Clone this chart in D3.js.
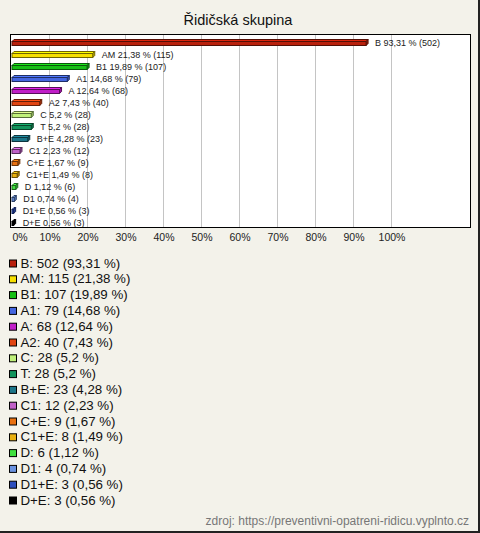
<!DOCTYPE html>
<html><head><meta charset="utf-8">
<script src="https://cdn.jsdelivr.net/npm/d3@7"></script>
<style>html,body{margin:0;padding:0;background:#f3f2ea;}svg{display:block;}</style>
</head><body>
<script>
const title = "Řidičská skupina";
const categories = ["B","AM","B1","A1","A","A2","C","T","B+E","C1","C+E","C1+E","D","D1","D1+E","D+E"];
const counts = [502,115,107,79,68,40,28,28,23,12,9,8,6,4,3,3];
const percents = [93.31,21.38,19.89,14.68,12.64,7.43,5.2,5.2,4.28,2.23,1.67,1.49,1.12,0.74,0.56,0.56];
const colors = ["#b8200c","#f7e000","#16c016","#4466e0","#c01ec8","#e04412","#bff07a","#12945c","#1c7588","#c060c8","#e87010","#e8b010","#40e040","#6a92e0","#2d4fbe","#000000"];
const ticks = [0,10,20,30,40,50,60,70,80,90,100];
const source = "zdroj: https://preventivni-opatreni-ridicu.vyplnto.cz";

const W = 480, H = 533;
const svg = d3.select("body").append("svg").attr("width", W).attr("height", H);
const font = "'Liberation Sans', Arial, sans-serif";
const fmt = v => String(v).replace(".", ",");

svg.append("rect").attr("width", W).attr("height", H).attr("fill", "#f3f2ea");
// outer border (right/bottom)
svg.append("line").attr("x1", W-1).attr("x2", W-1).attr("y1", 0).attr("y2", H).attr("stroke", "#222").attr("stroke-width", 2);
svg.append("line").attr("x1", 0).attr("x2", W).attr("y1", H-1).attr("y2", H-1).attr("stroke", "#222").attr("stroke-width", 2);

svg.append("text").attr("x", 238).attr("y", 25).attr("text-anchor", "middle")
  .attr("font-family", font).attr("font-size", 14.5).attr("fill", "#111").text(title);

const plot = {x0: 10.5, y0: 34.5, x1: 470.5, y1: 227.5};
svg.append("rect").attr("x", plot.x0).attr("y", plot.y0).attr("width", plot.x1-plot.x0).attr("height", plot.y1-plot.y0)
  .attr("fill", "#fff");

const x = d3.scaleLinear().domain([0,100]).range([11.5, 391.5]);
const y = d3.scaleBand().domain(categories).range([35, 227]);

// gridlines
svg.append("g").selectAll("line").data(ticks.filter(t => t > 0)).join("line")
  .attr("x1", d => x(d)).attr("x2", d => x(d)).attr("y1", plot.y0).attr("y2", plot.y1)
  .attr("stroke", "#c4c4c4").attr("stroke-width", 1);

// bars (3D)
const dep = 2, fh = 4, off = 6;
const gb = svg.append("g");
categories.forEach((c, i) => {
  const x0 = x(0) + 0.5, x1 = Math.max(x(percents[i]), x0 + 1);
  const yf = Math.round(y(c)) + off + 0.5;
  const col = d3.color(colors[i]);
  const stroke = colors[i] === "#000000" ? "#000" : col.darker(2.2).toString();
  // top face
  gb.append("path").attr("d", `M${x0},${yf}L${x0+dep},${yf-dep}L${x1+dep},${yf-dep}L${x1},${yf}Z`)
    .attr("fill", col.brighter(0.5).toString()).attr("stroke", stroke).attr("stroke-width", 1);
  // side face
  gb.append("path").attr("d", `M${x1},${yf}L${x1+dep},${yf-dep}L${x1+dep},${yf+fh-dep}L${x1},${yf+fh}Z`)
    .attr("fill", col.darker(0.6).toString()).attr("stroke", stroke).attr("stroke-width", 1);
  // front
  gb.append("rect").attr("x", x0).attr("y", yf).attr("width", x1 - x0).attr("height", fh)
    .attr("fill", colors[i]).attr("stroke", stroke).attr("stroke-width", 1);
  gb.append("text").attr("x", x(percents[i]) + 9).attr("y", yf + 4)
    .attr("font-family", font).attr("font-size", 9).attr("fill", "#222")
    .text(`${c} ${fmt(percents[i])} % (${counts[i]})`);
});

// frame
svg.append("rect").attr("x", plot.x0).attr("y", plot.y0).attr("width", plot.x1-plot.x0).attr("height", plot.y1-plot.y0)
  .attr("fill", "none").attr("stroke", "#000").attr("stroke-width", 1);

// axis
const axis = d3.axisBottom(x).tickValues(ticks).tickFormat(d => d + "%").tickSize(0).tickPadding(0);
const ga = svg.append("g").attr("transform", "translate(0,234)").call(axis);
ga.select(".domain").remove();
ga.selectAll("text").attr("font-family", font).attr("font-size", 10.5).attr("fill", "#222").attr("dy", "0.71em");
ga.selectAll(".tick").filter(d => d === 0).select("text").attr("text-anchor", "start").attr("x", 0.5);

// legend
const lg = svg.append("g");
categories.forEach((c, i) => {
  const by = 267.5 + i * 15.8;
  lg.append("rect").attr("x", 9.5).attr("y", by - 7.5).attr("width", 7).attr("height", 7)
    .attr("fill", colors[i]).attr("stroke", "#000").attr("stroke-width", 1);
  lg.append("text").attr("x", 20.5).attr("y", by).attr("font-family", font).attr("font-size", 13.3)
    .attr("fill", "#111").text(`${c}: ${counts[i]} (${fmt(percents[i])} %)`);
});

svg.append("text").attr("x", 469).attr("y", 525).attr("text-anchor", "end")
  .attr("font-family", font).attr("font-size", 12).attr("fill", "#777").text(source);
</script>
</body></html>
